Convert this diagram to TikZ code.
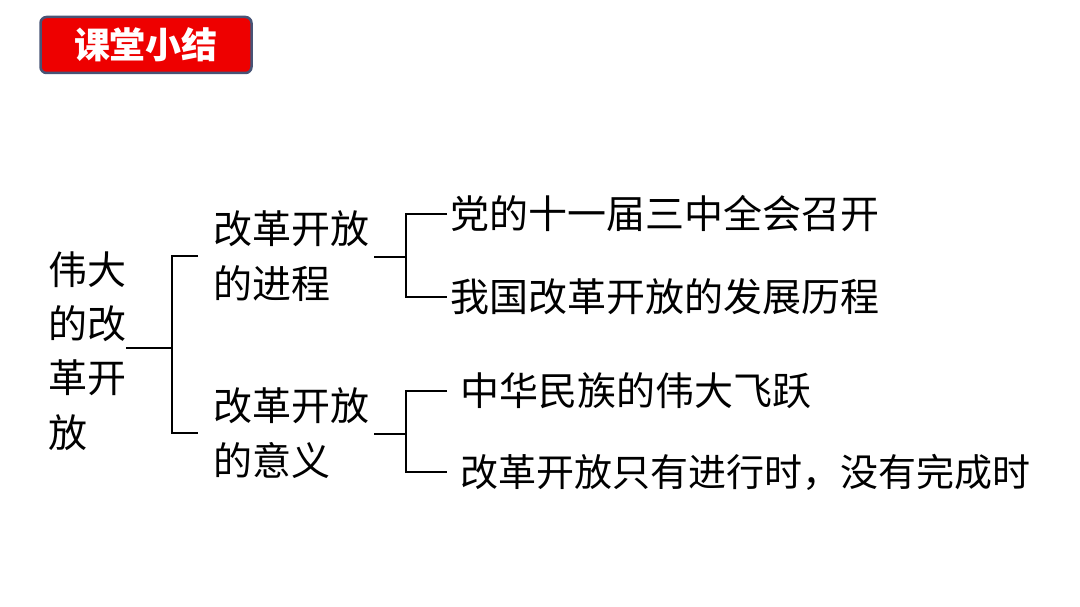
\documentclass[tikz,border=0pt]{standalone}
\usepackage{fontspec}
\newfontfamily\cjk{Noto Sans CJK SC}
\usepackage{tikz}
\usetikzlibrary{positioning}
\usepackage{xcolor}
\definecolor{titlered}{RGB}{238,0,0}
\definecolor{titleedge}{RGB}{72,84,118}

\begin{document}
\begin{tikzpicture}[
  x=1pt, y=-1pt,
  every node/.style={font=\cjk\fontsize{39}{55}\selectfont, inner sep=0pt},
  title/.style={draw=titleedge, fill=titlered, line width=2.5pt, rounded corners=6pt,
                minimum width=211pt, minimum height=56pt,
                font=\cjk\bfseries\fontsize{36}{40}\selectfont, text=white},
  block/.style={align=left, anchor=west},
  leaf/.style={anchor=west},
  link/.style={line width=2.2pt}
]
  \useasboundingbox (0,0) rectangle (1080,607);

  \node[title] (title) at (146,45) {课堂小结};

  \node[block, font=\cjk\fontsize{39}{54.3}\selectfont] (root) at (48,351) {伟大\\的改\\革开\\放};
  \node[block] (prog) at (213,256) {改革开放\\的进程};
  \node[block] (mean) at (213,433) {改革开放\\的意义};

  \node[leaf] (plenum)  at (450,214) {党的十一届三中全会召开};
  \node[leaf] (history) at (450,297) {我国改革开放的发展历程};
  \node[leaf] (leap)    at (460,391) {中华民族的伟大飞跃};
  \node[leaf, font=\cjk\fontsize{38}{55}\selectfont] (ongoing) at (460,472) {改革开放只有进行时，没有完成时};

  \coordinate (j0) at (172,348);
  \coordinate (j1) at (406,257);
  \coordinate (j2) at (406,434);

  \draw[link] (root.east |- j0) -- (j0);
  \draw[link] ([xshift=-15pt]prog.west) -| (j0) |- ([xshift=-15pt]mean.west);

  \draw[link] ([xshift=5pt]prog.east |- j1) -- (j1);
  \draw[link] ([xshift=-3pt]plenum.west) -| (j1) |- ([xshift=-3pt]history.west);

  \draw[link] ([xshift=5pt]mean.east |- j2) -- (j2);
  \draw[link] ([xshift=-13pt]leap.west) -| (j2) |- ([xshift=-13pt]ongoing.west);
\end{tikzpicture}
\end{document}
